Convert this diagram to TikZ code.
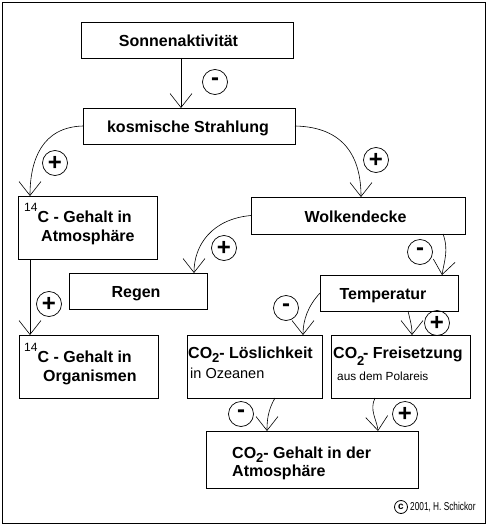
\documentclass[tikz,border=0pt]{standalone}
\usepackage{fontspec}
\setmainfont{Liberation Sans}
\usetikzlibrary{arrows.meta}
\newcommand{\isot}{\raisebox{11pt}{\fontsize{12}{12}\mdseries\selectfont 14}}
\newcommand{\cosub}{CO\raisebox{-4pt}{\fontsize{13}{13}\selectfont 2}}
\begin{document}
\begin{tikzpicture}[x=1pt,y=-1pt,
  box/.style={draw, line width=0.8pt, inner sep=0pt, outer sep=0pt},
  lbl/.style={font=\fontsize{16}{19}\selectfont\bfseries, inner sep=0pt, anchor=base},
  lbll/.style={lbl, anchor=base west},
  small/.style={font=\fontsize{14.5}{16}\selectfont, inner sep=0pt, anchor=base west},
  tiny/.style={font=\fontsize{11.8}{13}\selectfont, inner sep=0pt, anchor=base west},
  link/.style={line width=0.6pt, -{Straight Barb[length=14pt,width=22pt,line width=0.6pt]}},
  sign/.style={draw, circle, line width=0.7pt, minimum size=25pt, inner sep=0pt, font=\fontsize{24}{24}\selectfont\bfseries},
]
\useasboundingbox (0,0) rectangle (492,527);
\draw[line width=1pt] (2.5,2.5) rectangle (485.5,523.5);

% boxes
\node[box, minimum width=212pt, minimum height=36pt] (sonne) at (187,40) {};
\node[box, minimum width=212pt, minimum height=36pt] (kosm) at (189,126) {};
\node[box, minimum width=139pt, minimum height=63pt] (atm) at (87.5,227.5) {};
\node[box, minimum width=214pt, minimum height=37pt] (wolk) at (358,215.5) {};
\node[box, minimum width=138pt, minimum height=36pt] (regen) at (138,291) {};
\node[box, minimum width=139pt, minimum height=63pt] (org) at (88.5,366.5) {};
\node[box, minimum width=138pt, minimum height=36pt] (temp) at (389,293) {};
\node[box, minimum width=135pt, minimum height=63pt] (loes) at (254.5,366.5) {};
\node[box, minimum width=139pt, minimum height=63pt] (frei) at (400.5,366.5) {};
\node[box, minimum width=212pt, minimum height=57pt] (co2) at (312,459.5) {};

% texts
\node[lbl] (sonneT) at (178.5,47) {Sonnenaktivität};
\node[lbl] (kosmT) at (188,132) {kosmische Strahlung};
\node[lbl] (wolkT) at (355.5,222) {Wolkendecke};
\node[lbl] (regenT) at (136,297) {Regen};
\node[lbl] (tempT) at (383,299) {Temperatur};
\node[lbll] (atmA) at (24,222) {\isot C - Gehalt in};
\node[lbll] (atmB) at (41,241) {Atmosphäre};
\node[lbll] (orgA) at (24,362) {\isot C - Gehalt in};
\node[lbll] (orgB) at (43,381) {Organismen};
\node[lbll] (loesA) at (188,358) {\cosub- Löslichkeit};
\node[small] (loesB) at (190,378) {in Ozeanen};
\node[lbll] (freiA) at (333,358) {CO\makebox[6pt][l]{\raisebox{-7pt}{\fontsize{13}{13}\selectfont 2}}- Freisetzung};
\node[tiny] (freiB) at (337,380) {aus dem Polareis};
\node[lbll] (co2A) at (232,458) {\cosub- Gehalt in der};
\node[lbll] (co2B) at (232,476) {Atmosphäre};

% connectors
\draw[link] ([xshift=-6pt]sonne.south) -- ([xshift=-8pt]kosm.north);
\draw[link] (kosm.west) .. controls (42,127) and (30,160) .. ([xshift=12pt]atm.north west);
\draw[link] (kosm.east) .. controls (345,127) and (361,158) .. ([xshift=3pt]wolk.north);
\draw[link] (wolk.west) .. controls (212,219) and (194,245) .. ([xshift=-13pt]regen.north east);
\draw[link] ([xshift=12pt]atm.south west) -- ([xshift=11pt]org.north west);
\draw[link] ([xshift=-22pt]wolk.south east) .. controls (449,250) and (444,262) .. ([xshift=-16pt]temp.north east);
\draw[link] (temp.west) .. controls (308,306) and (303,320) .. ([xshift=-19pt]loes.north east);
\draw[link] ([xshift=19pt]temp.south) .. controls (410,320) and (412,325) .. ([xshift=11.5pt]frei.north);
\draw[link] ([xshift=20.5pt]loes.south) .. controls (268,410) and (267,420) .. ([xshift=-45pt]co2.north);
\draw[link] ([xshift=-25.5pt]frei.south) .. controls (369,410) and (377,420) .. ([xshift=66pt]co2.north);

% signs
\node[sign] (s1) at (215,82) {-};
\node[sign] (s2) at (55,163) {+};
\node[sign] (s3) at (376,160) {+};
\node[sign] (s4) at (224,248) {+};
\node[sign] (s5) at (49,304) {+};
\node[sign] (s6) at (420,252) {-};
\node[sign] (s7) at (286,308) {-};
\node[sign] (s8) at (437,323) {+};
\node[sign] (s9) at (241,414) {-};
\node[sign] (s10) at (405,414) {+};

% copyright
\node[draw, circle, line width=0.8pt, minimum size=13pt, inner sep=0pt, font=\fontsize{10}{10}\selectfont\bfseries] (cc) at (401,507) {c};
\node[font=\fontsize{11.5}{11.5}\selectfont, inner sep=0pt, anchor=west] (cr) at (410,507) {\scalebox{0.72}[1]{2001, H. Schickor}};
\end{tikzpicture}
\end{document}
